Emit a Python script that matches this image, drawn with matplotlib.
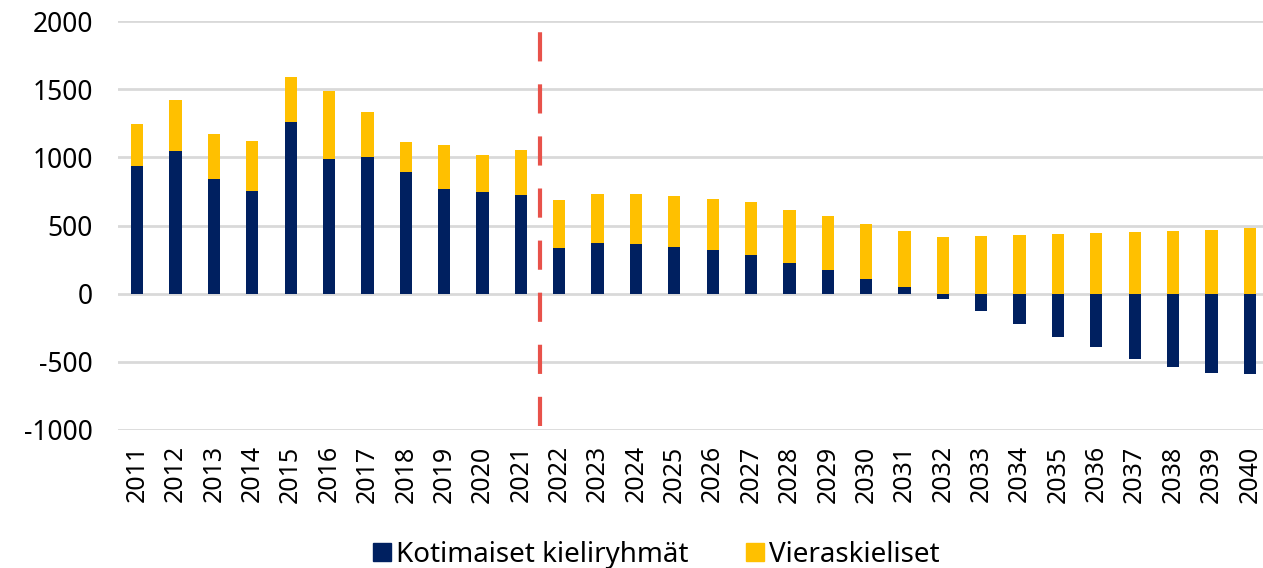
import numpy as np
import matplotlib.pyplot as plt
from matplotlib.lines import Line2D

# DATA
years = [str(y) for y in range(2011, 2041)]
kotimaiset = [937, 1049, 838, 753, 1257, 985, 1005, 895, 765, 745, 721,
              337, 369, 362, 342, 320, 281, 224, 175, 107, 50,
              -37, -130, -225, -321, -394, -478, -539, -583, -590]
yhteensa = [1245, 1419, 1174, 1123, 1588, 1483, 1336, 1115, 1093, 1020, 1054,
            690, 732, 732, 717, 695, 670, 616, 572, 513, 461,
            417, 424, 432, 437, 446, 454, 463, 468, 481]
labels = ["Kotimaiset kieliryhmät", "Vieraskieliset"]

NAVY = "#002060"
YELLOW = "#ffc000"
RED = "#e8524a"

kot = np.array(kotimaiset)
tot = np.array(yhteensa)
vieras = np.where(kot > 0, tot - kot, tot)
base = np.where(kot > 0, kot, 0)

plt.rcParams['font.family'] = ['Noto Sans', 'DejaVu Sans']
plt.rcParams['axes.unicode_minus'] = False

fig = plt.figure(figsize=(12.63, 5.68), dpi=100)
ax = fig.add_axes([118 / 1263, 1 - 430 / 568, (1269 - 118) / 1263, (430 - 21) / 568])

x = np.arange(len(years))
w = 0.32
ax.bar(x, kot, width=w, color=NAVY, zorder=3, label=labels[0])
ax.bar(x, vieras, width=w, bottom=base, color=YELLOW, zorder=3, label=labels[1])

ax.set_xlim(-0.5, len(years) - 0.5)
ax.set_ylim(-1000, 2000)
ax.set_yticks(range(-1000, 2001, 500))
ax.yaxis.grid(True, color="#d9d9d9", linewidth=2, zorder=0)
ax.set_axisbelow(True)
for s in ax.spines.values():
    s.set_visible(False)
ax.tick_params(length=0)
ax.tick_params(axis="y", labelsize=19, pad=18)
ax.set_xticks(x)
ax.set_xticklabels(years, rotation=90, fontsize=18)
ax.tick_params(axis="x", pad=11)

# forecast separator
ax.plot([10.5, 10.5], [-970, 1930], color=RED, linewidth=3,
        linestyle=(0, (7, 5.5)), zorder=4, clip_on=False)

handles = [Line2D([], [], marker="s", linestyle="", color=NAVY, markersize=13),
           Line2D([], [], marker="s", linestyle="", color=YELLOW, markersize=13)]
fig.legend(handles, labels, loc="center", bbox_to_anchor=(655 / 1263, 1 - 555 / 568),
           ncol=2, frameon=False, fontsize=20, handletextpad=0.1,
           columnspacing=2.0, handlelength=0.8)

fig.savefig("out.png", dpi=100)
